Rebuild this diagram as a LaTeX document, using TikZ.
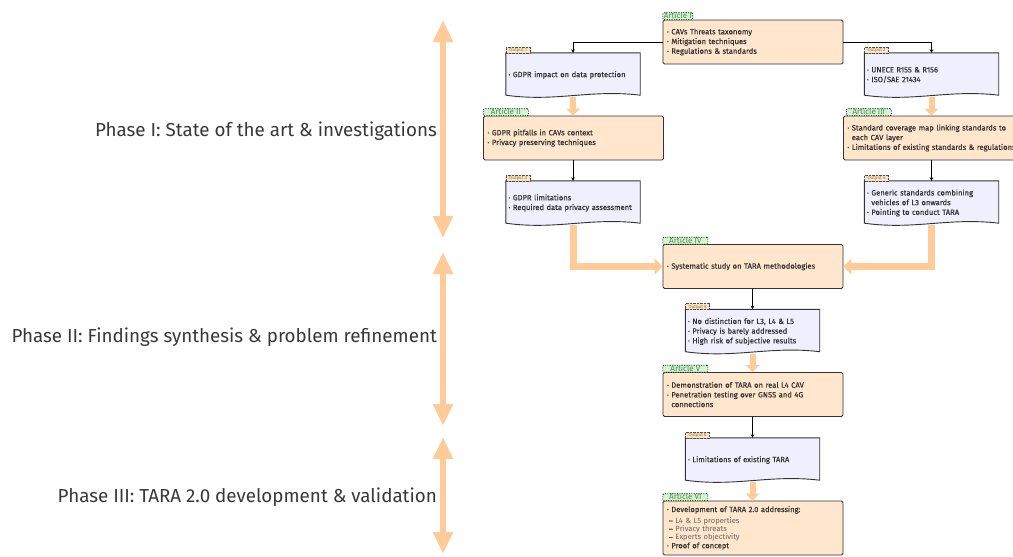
\documentclass[tikz,border=0pt]{standalone}
\usepackage{fontspec}
\setmainfont{Fira Sans}
\newfontfamily\boxfont{Fira Sans}[FakeBold=0.3]
\usetikzlibrary{arrows.meta,calc,backgrounds}
\definecolor{artfill}{HTML}{FFE6CC}
\definecolor{outfill}{HTML}{EFEFFD}
\definecolor{orangearr}{HTML}{FFCC99}
\definecolor{labgreen}{HTML}{D2F7D2}
\definecolor{labgtxt}{HTML}{4E8F4E}
\definecolor{labor}{HTML}{F7E4C8}
\definecolor{labotxt}{HTML}{A0703A}
\definecolor{txt}{HTML}{333333}
\newcommand\bul{\textperiodcentered\ }
\newcommand\ind{\phantom{\textperiodcentered\ }}
\newcommand\docshape[1]{%
 \begin{scope}[on background layer]
 \draw[docline] (#1.north west) -- (#1.north east) -- ([yshift=2pt]#1.south east)
  .. controls ([xshift=-50pt,yshift=8pt]#1.south east) and ([xshift=50pt,yshift=-5pt]#1.south west) .. ([yshift=2pt]#1.south west) -- cycle;
 \end{scope}}
\tikzset{
 art/.style={draw=txt, fill=artfill, rounded corners=1.5pt, line width=0.9pt, minimum width=180pt, minimum height=44pt, text width=172pt, align=left, inner xsep=4pt, inner ysep=0pt, font=\boxfont\fontsize{7.6}{9.7}\selectfont, text=txt},
 outbox/.style={minimum width=134pt, minimum height=44pt, text width=129pt, align=left, inner xsep=2.5pt, inner ysep=0pt, font=\boxfont\fontsize{7.6}{9.7}\selectfont, text=txt},
 docline/.style={draw=txt, fill=outfill, line width=0.9pt},
 artlab/.style={draw=black, dash pattern=on 1.2pt off 1.2pt, line width=0.6pt, fill=labgreen, rounded corners=1pt, inner xsep=1pt, inner ysep=0pt, minimum width=45pt, minimum height=7pt, text height=5.6pt, text depth=0.4pt, font=\fontsize{8}{8}\selectfont, text=labgtxt, anchor=south west},
 outlab/.style={draw=black!70, dash pattern=on 0.7pt off 0.7pt, line width=0.4pt, fill=labor, inner xsep=0.5pt, inner ysep=0pt, minimum width=24pt, minimum height=6pt, text height=3.3pt, text depth=0.3pt, font=\fontsize{4.5}{4.5}\selectfont, text=labotxt, anchor=south west},
 conn/.style={draw=black, line width=0.7pt, -{Stealth[length=3.5pt,width=3.5pt]}},
 fat/.style={draw=orangearr, line width=6pt, -{Triangle[length=7pt,width=14pt]}},
 phasearr/.style={draw=orangearr, line width=6pt, {Triangle[length=22pt,width=19pt]}-{Triangle[length=22pt,width=19pt]}},
 phase/.style={anchor=east, inner sep=0pt, font=\fontsize{18.8}{21}\selectfont, text=black!78}
}
\begin{document}
\begin{tikzpicture}[x=1pt,y=-1pt]
\useasboundingbox (0,0) rectangle (1013,557);
% phases
\node[phase] (ph1) at (437,131) {Phase I: State of the art \& investigations};
\node[phase] (ph2) at (437,337) {Phase II: Findings synthesis \& problem refinement};
\node[phase] (ph3) at (437,497) {Phase III: TARA 2.0 development \& validation};
\coordinate (p1a) at (443,20);  \coordinate (p1b) at (443,238);
\coordinate (p2a) at (443,252); \coordinate (p2b) at (443,426);
\coordinate (p3a) at (443,437); \coordinate (p3b) at (443,554);
\draw[phasearr] (p1a) -- (p1b);
\draw[phasearr] (p2a) -- (p2b);
\draw[phasearr] (p3a) -- (p3b);
% articles
\node[art] (a1) at (753,42) {\bul CAVs Threats taxonomy\\\bul Mitigation techniques\\\bul Regulations \& standards};
\node[art] (a2) at (573.5,138) {\bul GDPR pitfalls in CAVs context\\\bul Privacy preserving techniques};
\node[art, text width=200pt, anchor=west] (a3) at (843,138) {\bul Standard coverage map linking standards to\\\ind each CAV layer\\\bul Limitations of existing standards \& regulations};
\node[art] (a4) at (753,266.5) {\bul Systematic study on TARA methodologies};
\node[art] (a5) at (753,394.5) {\bul Demonstration of TARA on real L4 CAV\\\bul Penetration testing over GNSS and 4G\\\ind connections};
\node[art, minimum height=54pt] (a6) at (753,528) {\bul Development of TARA 2.0 addressing:\\[1.6pt]
 \hspace*{2pt}– {\rmfamily\color{black!60}L4 \& L5 properties}\\[-1.4pt]
 \hspace*{2pt}– {\rmfamily\color{black!60}Privacy threats}\\[-1.4pt]
 \hspace*{2pt}– {\rmfamily\color{black!60}Experts objectivity}\\[-1.4pt]
 \bul Proof of concept};
% outputs
\node[outbox] (o1) at (573,75) {\bul GDPR impact on data protection};
\node[outbox] (o2) at (931.5,75) {\bul UNECE R155 \& R156\\\bul ISO/SAE 21434};
\node[outbox] (o3) at (573,203) {\bul GDPR limitations\\\bul Required data privacy assessment};
\node[outbox] (o4) at (931.5,203) {\bul Generic standards combining\\\ind vehicles of L3 onwards\\\bul Pointing to conduct TARA};
\node[outbox] (o5) at (752.5,331.5) {\bul No distinction for L3, L4 \& L5\\\bul Privacy is barely addressed\\\bul High risk of subjective results};
\node[outbox] (o6) at (752.5,460) {\bul Limitations of existing TARA};
\docshape{o1}\docshape{o2}\docshape{o3}\docshape{o4}\docshape{o5}\docshape{o6}
% labels
\node[artlab, minimum width=28pt] (la1) at ([yshift=-0.5pt]a1.north west) {Article I};
\node[artlab] (la2) at ([yshift=-0.5pt]a2.north west) {Article II};
\node[artlab] (la3) at ([xshift=3pt,yshift=-0.5pt]a3.north west) {Article III};
\node[artlab] (la4) at ([yshift=-0.5pt]a4.north west) {Article IV};
\node[artlab] (la5) at ([yshift=-0.5pt]a5.north west) {Article V};
\node[artlab] (la6) at ([yshift=-0.5pt]a6.north west) {Article VI};
\node[outlab] (lo1) at ([yshift=-0.5pt]o1.north west) {Output 1};
\node[outlab] (lo2) at ([yshift=-0.5pt]o2.north west) {Output 2};
\node[outlab] (lo3) at ([yshift=-0.5pt]o3.north west) {Output 3};
\node[outlab] (lo4) at ([yshift=-0.5pt]o4.north west) {Output 4};
\node[outlab] (lo5) at ([yshift=-0.5pt]o5.north west) {Output 5};
\node[outlab] (lo6) at ([yshift=-0.5pt]o6.north west) {Output 6};
% black connectors
\draw[conn] (a1.west) -| (o1.north);
\draw[conn] (a1.east) -| (o2.north);
\draw[conn] (o3.north |- a2.south) -- (o3.north);
\draw[conn] (o4.north |- a3.south) -- (o4.north);
\draw[conn] (o5.north |- a4.south) -- (o5.north);
\draw[conn] (o6.north |- a5.south) -- (o6.north);
% orange flows
\draw[fat] (o1.south) -- (o1.south |- a2.north);
\draw[fat] (o2.south) -- (o2.south |- a3.north);
\draw[fat] (o5.south) -- (o5.south |- a5.north);
\draw[fat] (o6.south) -- (o6.south |- a6.north);
\draw[fat, line width=7pt, -{Triangle[length=8pt,width=16pt]}] (o3.south) |- (a4.west);
\draw[fat, line width=7pt, -{Triangle[length=8pt,width=16pt]}] (o4.south) |- (a4.east);
\end{tikzpicture}
\end{document}
